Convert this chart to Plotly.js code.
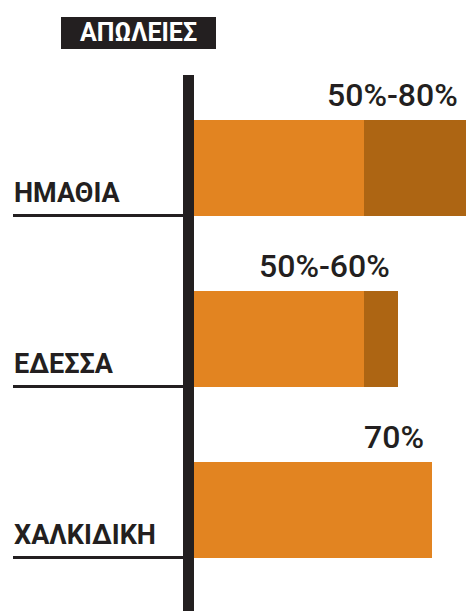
<!DOCTYPE html>
<html>
<head>
<meta charset="utf-8">
<script src="https://cdn.plot.ly/plotly-3.0.1.min.js"></script>
<style>
  html, body { margin: 0; padding: 0; background: #fff; }
  #chart { width: 466px; height: 611px; }
</style>
</head>
<body>
<div id="chart"></div>
<script>
// data
var regions = ['ΗΜΑΘΙΑ', 'ΕΔΕΣΣΑ', 'ΧΑΛΚΙΔΙΚΗ'];
var lowLoss = [50, 50, 70];      // lower bound of losses, %
var extraLoss = [30, 10, 0];     // extra up to the upper bound, %
var highLoss = [80, 60, 70];     // upper bound, %
var lossLabels = ['50%-80%', '50%-60%', '70%'];
var chartTitle = 'ΑΠΩΛΕΙΕΣ';

var ink = '#231f20';
var orange = '#e28421';
var darkOrange = '#ad6513';

// plot area is 194..466 px wide, 82..595 px tall
var W = 466, H = 611;
var mL = 194, mR = 0, mT = 82, mB = 16;
var pw = W - mL - mR, ph = H - mT - mB;
function px(x) { return (x - mL) / pw; }
function py(y) { return 1 - (y - mT) / ph; }

var barHalf = 0.2807;

var data = [
  {
    type: 'bar',
    orientation: 'h',
    y: regions,
    x: lowLoss,
    marker: { color: orange },
    hoverinfo: 'none'
  },
  {
    type: 'bar',
    orientation: 'h',
    y: regions,
    x: extraLoss,
    marker: { color: darkOrange },
    hoverinfo: 'none'
  }
];

var shapes = [
  // title box
  { type: 'rect', xref: 'paper', yref: 'paper', x0: px(61), x1: px(216), y0: py(49), y1: py(17),
    fillcolor: ink, line: { width: 0 }, layer: 'above' },
  // thick vertical axis line
  { type: 'rect', xref: 'paper', yref: 'paper', x0: px(183), x1: px(194), y0: py(612), y1: py(75),
    fillcolor: ink, line: { width: 0 }, layer: 'above' }
];

var annotations = [
  { text: chartTitle, xref: 'paper', yref: 'paper', x: px(138.5), y: py(33), xanchor: 'center', yanchor: 'middle',
    showarrow: false, font: { family: 'Roboto', size: 25, color: '#fff', weight: 'bold' } }
];

regions.forEach(function (r, i) {
  // underline for the region name
  shapes.push({ type: 'line', xref: 'paper', yref: 'y', x0: px(13), x1: px(183),
    y0: i + barHalf, y1: i + barHalf, line: { color: ink, width: 3 } });
  annotations.push({ text: r, xref: 'paper', yref: 'y', x: px(12), y: i + barHalf,
    xanchor: 'left', yanchor: 'bottom', yshift: 5, showarrow: false,
    font: { family: 'Roboto', size: 27, color: ink, weight: 'bold' } });
  annotations.push({ text: lossLabels[i], xref: 'x', yref: 'y', x: highLoss[i], y: i - barHalf,
    xanchor: 'right', yanchor: 'bottom', xshift: -6, yshift: 4, showarrow: false,
    font: { family: 'Roboto', size: 32, color: ink, weight: 500 } });
});

var layout = {
  width: W,
  height: H,
  margin: { l: mL, r: mR, t: mT, b: mB, pad: 0 },
  paper_bgcolor: '#fff',
  plot_bgcolor: '#fff',
  barmode: 'stack',
  bargap: 0.4386,
  showlegend: false,
  xaxis: { range: [0, 80], showgrid: false, zeroline: false, showticklabels: false, showline: false, fixedrange: true },
  yaxis: { type: 'category', range: [2.5, -0.5], showgrid: false, zeroline: false, showticklabels: false, showline: false, fixedrange: true },
  shapes: shapes,
  annotations: annotations
};

Plotly.newPlot('chart', data, layout, { displayModeBar: false, staticPlot: true });
</script>
</body>
</html>
